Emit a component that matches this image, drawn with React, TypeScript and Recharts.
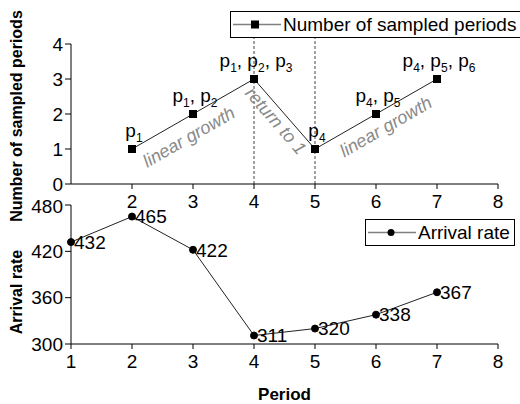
import { LineChart, Line, XAxis, YAxis, ReferenceLine, ReferenceDot, LabelList, Legend } from 'recharts';

// top panel: how many periods are sampled at each period
const sampledPeriods = [2, 3, 4, 5, 6, 7];
const sampledCounts = [1, 2, 3, 1, 2, 3];
const sampledTags = [['1'], ['1', '2'], ['1', '2', '3'], ['4'], ['4', '5'], ['4', '5', '6']];
const countTicks = [0, 1, 2, 3, 4];
const topPeriodTicks = [2, 3, 4, 5, 6, 7, 8];
const resetPeriods = [4, 5];

// bottom panel: arrival rate per period
const periods = [1, 2, 3, 4, 5, 6, 7];
const arrivalRate = [432, 465, 422, 311, 320, 338, 367];
const rateTicks = [300, 360, 420, 480];
const periodTicks = [1, 2, 3, 4, 5, 6, 7, 8];

const font = '"Liberation Sans", Arial, sans-serif';
const tickStyle = { fontSize: 19, fill: '#000', fontFamily: font };
const axisStroke = { stroke: '#000', strokeWidth: 1 };

const topData = sampledPeriods.map((p, i) => ({ period: p, count: sampledCounts[i] }));
const bottomData = periods.map((p, i) => ({ period: p, rate: arrivalRate[i] }));

function axisTitle(text: string, x: number, y: number) {
  return () => (
    <text x={x} y={y} transform={`rotate(-90, ${x}, ${y})`} textAnchor="middle" fontSize={16} fontWeight="bold" fontFamily={font} fill="#000">
      {text}
    </text>
  );
}

function SquareDot(props: any) {
  const { cx, cy, index } = props;
  return <rect key={index} x={cx - 4} y={cy - 4} width={8} height={8} fill="#000" />;
}

function TagLabel(props: any) {
  const { x, y, index } = props;
  const tags = sampledTags[index] || [];
  return (
    <text x={x + 2} y={y - 12} textAnchor="middle" fontSize={19} fontFamily={font} fill="#000">
      {tags.map((t, i) => (
        <tspan key={i}>
          <tspan dy={i === 0 ? 0 : -5}>{i === 0 ? 'p' : ', p'}</tspan>
          <tspan fontSize={12} dy={5}>{t}</tspan>
        </tspan>
      ))}
    </text>
  );
}

function RateLabel(props: any) {
  const { x, y, value } = props;
  return (
    <text x={x + 3} y={y} dy="0.36em" fontSize={19} fontFamily={font} fill="#000">
      {value}
    </text>
  );
}

function note(text: string, angle: number) {
  return (p: any) => (
    <text
      x={p.cx}
      y={p.cy}
      transform={`rotate(${angle}, ${p.cx}, ${p.cy})`}
      textAnchor="middle"
      dy="0.35em"
      fontSize={18}
      fontStyle="italic"
      fontFamily={font}
      fill="#8a8a8a"
    >
      {text}
    </text>
  );
}

function LegendBox({ label, marker, width }: { label: string; marker: 'square' | 'circle'; width: number }) {
  return (
    <div style={{ display: 'flex', alignItems: 'center', width, height: 27, boxSizing: 'border-box', border: '1px solid #000', background: '#fff' }}>
      <svg width={52} height={25} style={{ flex: 'none' }}>
        <line x1={2} y1={12.5} x2={50} y2={12.5} stroke="#808080" strokeWidth={1.5} />
        {marker === 'square'
          ? <rect x={20} y={8.5} width={8} height={8} fill="#000" />
          : <circle cx={25} cy={12.5} r={3.5} fill="#000" />}
      </svg>
      <span style={{ fontSize: 19, fontFamily: font, color: '#000', whiteSpace: 'nowrap' }}>{label}</span>
    </div>
  );
}

export default function App() {
  return (
    <div style={{ position: 'absolute', left: 0, top: 0, width: 520, height: 404, overflow: 'hidden', background: '#fff' }}>
      <div style={{ position: 'absolute', left: 0, top: 0 }}>
        <LineChart width={520} height={232} data={topData} margin={{ top: 44, right: 22, left: 0, bottom: 0 }}>
          <XAxis
            dataKey="period"
            type="number"
            domain={[1, 8]}
            ticks={topPeriodTicks}
            height={48}
            tick={tickStyle}
            axisLine={axisStroke}
            tickLine={axisStroke}
            tickSize={5}
            tickMargin={6}
          />
          <YAxis
            type="number"
            domain={[0, 4]}
            ticks={countTicks}
            width={71}
            tick={tickStyle}
            axisLine={axisStroke}
            tickLine={axisStroke}
            tickSize={6}
            label={axisTitle('Number of sampled periods', 22, 116)}
          />
          {resetPeriods.map((p) => (
            <ReferenceLine
              key={p}
              segment={[{ x: p, y: 0 }, { x: p, y: 4.2 }]}
              ifOverflow="visible"
              stroke="#444"
              strokeDasharray="3 2"
            />
          ))}
          <ReferenceDot x={2.93} y={1.35} r={0} shape={note('linear growth', -30)} />
          <ReferenceDot x={4.36} y={1.81} r={0} shape={note('return to 1', 49)} />
          <ReferenceDot x={6.16} y={1.64} r={0} shape={note('linear growth', -30)} />
          <Legend
            layout="horizontal"
            verticalAlign="middle"
            align="center"
            wrapperStyle={{ top: 11, left: 230, width: 295 }}
            content={() => <LegendBox label="Number of sampled periods" marker="square" width={295} />}
          />
          <Line
            dataKey="count"
            name="Number of sampled periods"
            stroke="#222"
            strokeWidth={1}
            dot={SquareDot}
            isAnimationActive={false}
          >
            <LabelList dataKey="count" content={TagLabel} />
          </Line>
        </LineChart>
      </div>
      <div style={{ position: 'absolute', left: 0, top: 195 }}>
        <LineChart width={520} height={209} data={bottomData} margin={{ top: 10, right: 22, left: 0, bottom: 0 }}>
          <XAxis
            dataKey="period"
            type="number"
            domain={[1, 8]}
            ticks={periodTicks}
            height={60}
            tick={tickStyle}
            axisLine={axisStroke}
            tickLine={axisStroke}
            tickSize={5}
            tickMargin={6}
            label={(p: any) => (
              <text x={p.viewBox.x + p.viewBox.width / 2} y={p.viewBox.y + 56} textAnchor="middle" fontSize={17} fontWeight="bold" fontFamily={font} fill="#000">
                Period
              </text>
            )}
          />
          <YAxis
            type="number"
            domain={[300, 480]}
            ticks={rateTicks}
            width={71}
            tick={tickStyle}
            axisLine={axisStroke}
            tickLine={axisStroke}
            tickSize={6}
            label={axisTitle('Arrival rate', 22, 97)}
          />
          <Legend
            layout="horizontal"
            verticalAlign="middle"
            align="center"
            wrapperStyle={{ top: 24, left: 365, width: 150 }}
            content={() => <LegendBox label="Arrival rate" marker="circle" width={150} />}
          />
          <Line
            dataKey="rate"
            name="Arrival rate"
            stroke="#222"
            strokeWidth={1}
            dot={{ r: 3.5, fill: '#000', stroke: '#000', strokeWidth: 1 }}
            isAnimationActive={false}
          >
            <LabelList dataKey="rate" content={RateLabel} />
          </Line>
        </LineChart>
      </div>
    </div>
  );
}
